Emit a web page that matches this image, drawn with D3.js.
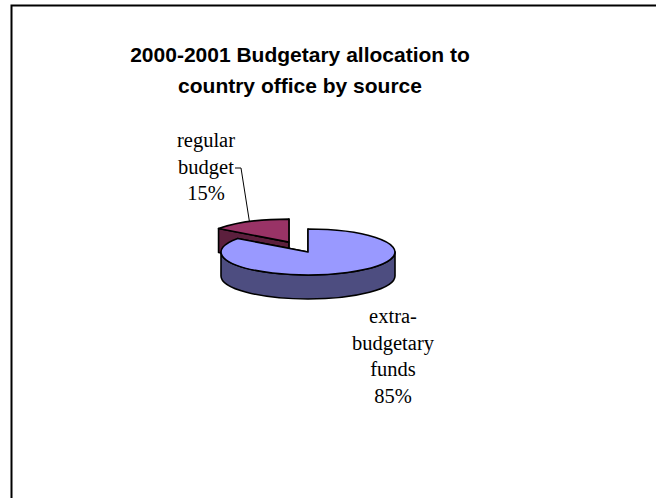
<!DOCTYPE html>
<html>
<head>
<meta charset="utf-8">
<script src="https://cdn.jsdelivr.net/npm/d3@7"></script>
<style>
  body { margin: 0; background: #ffffff; }
  svg { display: block; }
</style>
</head>
<body>
<script>
// data
var categories = ["extra-budgetary funds", "regular budget"];
var values = [85, 15];
var percentLabels = ["85%", "15%"];
var labelLines = [["extra-", "budgetary", "funds", "85%"], ["regular", "budget", "15%"]];
var titleLines = ["2000-2001 Budgetary allocation to", "country office by source"];

var topColors = ["#9999ff", "#993366"];
var sideColors = ["#4d4d80", "#5c1f3d"];

var width = 656, height = 498;
var cx = 308, cy = 252, rx = 87, ry = 23, depth = 24;
var explode = [0, 42];

var svg = d3.select("body").append("svg")
    .attr("width", width)
    .attr("height", height);

// frame
svg.append("rect")
    .attr("x", 11.5).attr("y", 5.5)
    .attr("width", 700).attr("height", 600)
    .attr("fill", "none")
    .attr("stroke", "#000")
    .attr("stroke-width", 2);

// title
svg.append("text")
    .attr("x", 300).attr("y", 62)
    .attr("text-anchor", "middle")
    .style("font-family", "'Liberation Sans', Arial, sans-serif")
    .style("font-weight", "bold")
    .style("font-size", "21px")
    .selectAll("tspan").data(titleLines).enter().append("tspan")
    .attr("x", 300)
    .attr("dy", function (d, i) { return i == 0 ? 0 : 31; })
    .text(function (d) { return d; });

var pie = d3.pie().sort(null).startAngle(0).endAngle(2 * Math.PI);
var arcs = pie(values);

// offset of a slice centre when pulled out
function offset(a, i) {
    var m = (a.startAngle + a.endAngle) / 2;
    return [explode[i] * Math.sin(m), -explode[i] * Math.cos(m) * ry / rx];
}

function pt(ang, o, z) {
    return [cx + o[0] + rx * Math.sin(ang), cy + o[1] - ry * Math.cos(ang) + z];
}

function topPath(a, o) {
    var p0 = pt(a.startAngle, o, 0), p1 = pt(a.endAngle, o, 0);
    var large = (a.endAngle - a.startAngle) > Math.PI ? 1 : 0;
    return "M" + (cx + o[0]) + "," + (cy + o[1]) +
        "L" + p0 + "A" + rx + "," + ry + " 0 " + large + " 1 " + p1 + "Z";
}

function radialPath(ang, o) {
    var c0 = [cx + o[0], cy + o[1]], p = pt(ang, o, 0);
    return "M" + c0 + "L" + p + "L" + [p[0], p[1] + depth] +
        "L" + [c0[0], c0[1] + depth] + "Z";
}

function outerPath(a, o) {
    var s = Math.max(a.startAngle, Math.PI / 2), e = Math.min(a.endAngle, 3 * Math.PI / 2);
    if (e <= s) return null;
    var p0 = pt(s, o, 0), p1 = pt(e, o, 0), q1 = pt(e, o, depth), q0 = pt(s, o, depth);
    return "M" + p0 + "A" + rx + "," + ry + " 0 0 1 " + p1 +
        "L" + q1 + "A" + rx + "," + ry + " 0 0 0 " + q0 + "Z";
}

// draw back slice (regular budget) first, then the big one
var order = [1, 0];
var g = svg.append("g");
order.forEach(function (i) {
    var a = arcs[i], o = offset(a, i);
    [a.startAngle, a.endAngle].forEach(function (ang) {
        g.append("path")
            .attr("d", radialPath(ang, o))
            .attr("fill", sideColors[i])
            .attr("stroke", "#000")
            .attr("stroke-width", 1.6)
            .attr("stroke-linejoin", "round");
    });
    var op = outerPath(a, o);
    if (op) {
        g.append("path")
            .attr("d", op)
            .attr("fill", sideColors[i])
            .attr("stroke", "#000")
            .attr("stroke-width", 1.6)
            .attr("stroke-linejoin", "round");
    }
    g.append("path")
        .attr("d", topPath(a, o))
        .attr("fill", topColors[i])
        .attr("stroke", "#000")
        .attr("stroke-width", 1.6)
        .attr("stroke-linejoin", "round");
});

// labels
var labelPos = [{x: 393, y: 323}, {x: 206, y: 147}];
labelLines.forEach(function (lines, i) {
    svg.append("text")
        .attr("x", labelPos[i].x).attr("y", labelPos[i].y)
        .attr("text-anchor", "middle")
        .style("font-family", "'Liberation Serif', 'Times New Roman', serif")
        .style("font-size", "20.5px")
        .selectAll("tspan").data(lines).enter().append("tspan")
        .attr("x", labelPos[i].x)
        .attr("dy", function (d, j) { return j == 0 ? 0 : 26.5; })
        .text(function (d) { return d; });
});

// leader line for the small slice
var small = arcs[1];
var lo = offset(small, 1);
var tip = pt((small.startAngle + small.endAngle) / 2, lo, 0);
svg.append("path")
    .attr("d", "M235,168L241,168L" + tip)
    .attr("fill", "none")
    .attr("stroke", "#000")
    .attr("stroke-width", 1);
</script>
</body>
</html>
